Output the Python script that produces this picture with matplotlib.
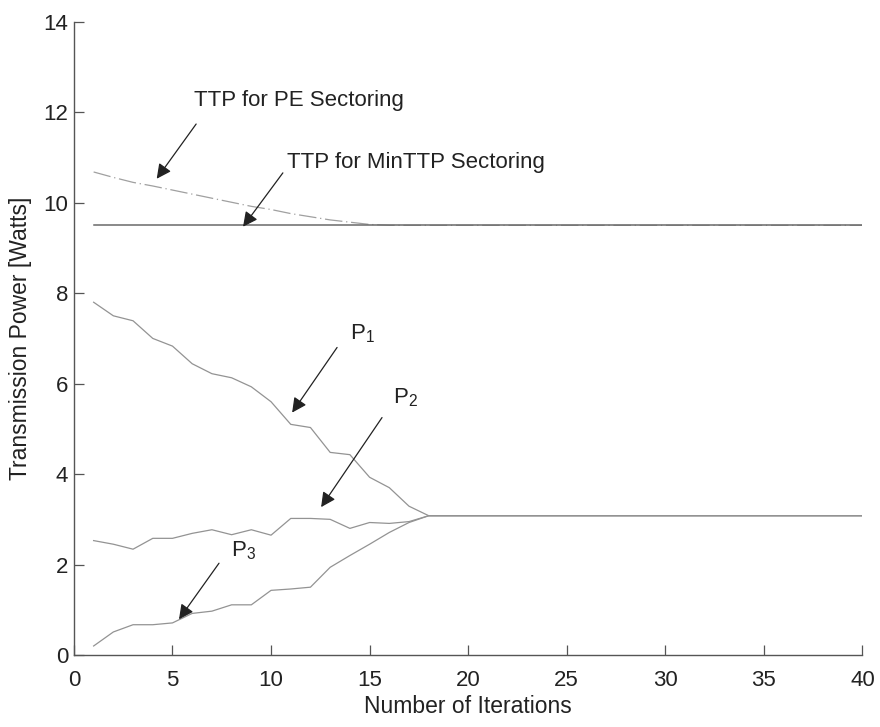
import numpy as np
import matplotlib
matplotlib.use("Agg")
import matplotlib.pyplot as plt

plt.rcParams['font.family'] = ['Liberation Sans', 'DejaVu Sans']

iterations = list(range(1, 41))

p1_head = [7.80, 7.50, 7.39, 7.00, 6.83, 6.44, 6.22, 6.13, 5.93, 5.60,
           5.10, 5.03, 4.48, 4.43, 3.93, 3.70, 3.29, 3.08]
p2_head = [2.53, 2.45, 2.34, 2.58, 2.58, 2.69, 2.77, 2.66, 2.77, 2.65,
           3.02, 3.02, 3.00, 2.80, 2.93, 2.91, 2.95, 3.08]
p3_head = [0.20, 0.51, 0.67, 0.67, 0.71, 0.92, 0.97, 1.11, 1.11, 1.43,
           1.46, 1.50, 1.94, 2.20, 2.45, 2.71, 2.93, 3.08]
ttp_pe_head = [10.68, 10.56, 10.45, 10.37, 10.28, 10.19, 10.10, 10.01, 9.92, 9.85,
               9.76, 9.69, 9.62, 9.57, 9.52, 9.50, 9.50, 9.50]
ttp_min_head = [9.50] * 18

# after convergence (iterations 19-40) every power stays at its final level
p_tail = [3.08] * 22
ttp_tail = [9.50] * 22

p1 = p1_head + p_tail
p2 = p2_head + p_tail
p3 = p3_head + p_tail
ttp_pe = ttp_pe_head + ttp_tail
ttp_min = ttp_min_head + ttp_tail

fig = plt.figure(figsize=(8.8, 7.27), dpi=100)
ax = fig.add_axes([0.084, 0.099, 0.896, 0.871])

line_kw = dict(lw=0.9, color='#939393')
ax.plot(iterations, p1, **line_kw)
ax.plot(iterations, p2, **line_kw)
ax.plot(iterations, p3, **line_kw)
ax.plot(iterations, ttp_pe, lw=0.9, color='#a0a0a0', linestyle=(0, (14, 3, 1, 3)))
ax.plot(iterations, ttp_min, lw=1.1, color='#6a6a6a')

ax.set_xlim(0, 40)
ax.set_ylim(0, 14)
ax.set_xticks(np.arange(0, 41, 5))
ax.set_yticks(np.arange(0, 15, 2))

for side in ('top', 'right'):
    ax.spines[side].set_visible(False)
for side in ('left', 'bottom'):
    ax.spines[side].set_color('#555555')
    ax.spines[side].set_linewidth(1.0)
ax.tick_params(direction='in', length=7, width=0.9, color='#555555',
               labelsize=16, labelcolor='#222222')
ax.tick_params(axis='x', pad=11)
ax.tick_params(axis='y', pad=4)

ax.set_xlabel('Number of Iterations', fontsize=16.5, color='#222222', labelpad=3)
ax.set_ylabel('Transmission Power [Watts]', fontsize=16.5, color='#222222', labelpad=8)

arrow = dict(arrowstyle='-|>', color='#222222', lw=0.9,
             mutation_scale=22, shrinkA=0, shrinkB=0)
txt = dict(fontsize=16, color='#222222', va='center', ha='left')

ax.annotate('', xy=(4.2, 10.53), xytext=(6.2, 11.74), arrowprops=arrow)
ax.text(6.1, 12.25, 'TTP for PE Sectoring', **txt)

ax.annotate('', xy=(8.58, 9.47), xytext=(10.6, 10.66), arrowprops=arrow)
ax.text(10.8, 10.9, 'TTP for MinTTP Sectoring', **txt)

ax.annotate('', xy=(11.07, 5.36), xytext=(13.35, 6.8), arrowprops=arrow)
ax.text(14.0, 7.1, r'P$_{\mathregular{1}}$', **txt)

ax.annotate('', xy=(12.54, 3.27), xytext=(15.63, 5.25), arrowprops=arrow)
ax.text(16.2, 5.7, r'P$_{\mathregular{2}}$', **txt)

ax.annotate('', xy=(5.33, 0.79), xytext=(7.36, 2.03), arrowprops=arrow)
ax.text(7.95, 2.3, r'P$_{\mathregular{3}}$', **txt)

fig.savefig('out.png', dpi=100, facecolor='white')
